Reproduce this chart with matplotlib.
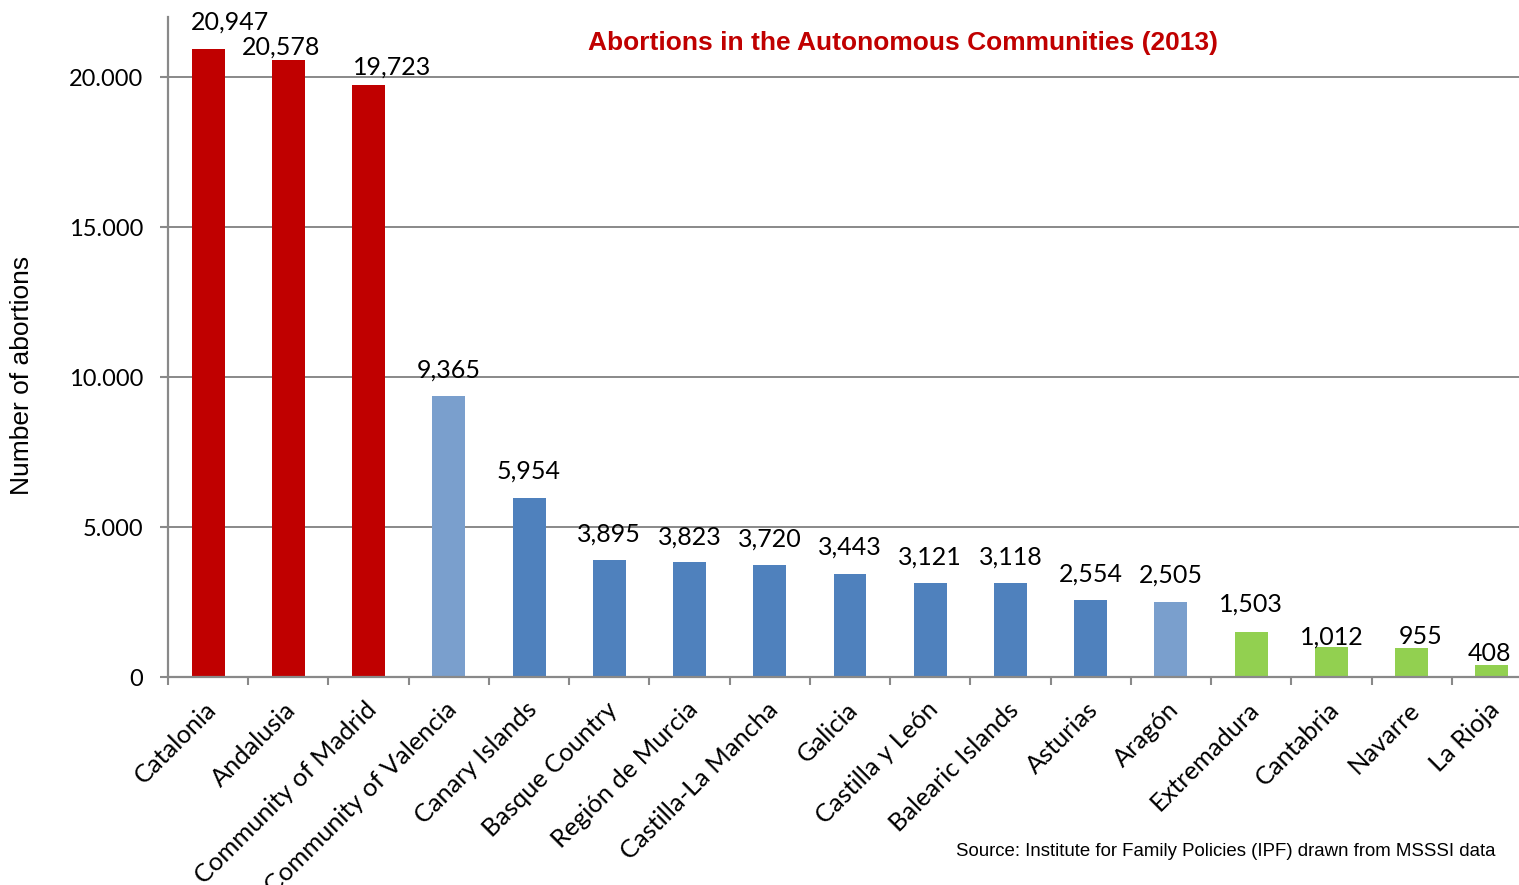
import matplotlib
matplotlib.use("Agg")
import matplotlib.pyplot as plt
from matplotlib.transforms import ScaledTranslation

categories = ["Catalonia", "Andalusia", "Community of Madrid", "Community of Valencia",
              "Canary Islands", "Basque Country", "Región de Murcia", "Castilla-La Mancha",
              "Galicia", "Castilla y León", "Balearic Islands", "Asturias", "Aragón",
              "Extremadura", "Cantabria", "Navarre", "La Rioja"]
values = [20947, 20578, 19723, 9365, 5954, 3895, 3823, 3720, 3443, 3121, 3118,
          2554, 2505, 1503, 1012, 955, 408]
value_labels = ["20,947", "20,578", "19,723", "9,365", "5,954", "3,895", "3,823", "3,720",
                "3,443", "3,121", "3,118", "2,554", "2,505", "1,503", "1,012", "955", "408"]
yticks = [0, 5000, 10000, 15000, 20000]
ytick_labels = ["0", "5.000", "10.000", "15.000", "20.000"]

RED, LBLUE, BLUE, GREEN = "#C00000", "#7A9FCD", "#4F81BD", "#92D050"
colors = [RED, RED, RED, LBLUE, BLUE, BLUE, BLUE, BLUE, BLUE, BLUE, BLUE, BLUE,
          LBLUE, GREEN, GREEN, GREEN, GREEN]
# label offsets in pixels (dx, gap above bar top)
label_dx = [22, -7, 23, 0, 0, 0, 0, 0, 0, 0, 0, 0, 0, 0, 0, 9, -2]
label_gap = [19, 5, 11, 18, 20, 19, 18, 19, 19, 19, 19, 19, 19, 20, 2, 4, 4]

W, H, DPI = 1519, 885, 100
fig = plt.figure(figsize=(W / DPI, H / DPI), dpi=DPI)
fig.patch.set_facecolor("white")
L, R, B, T = 168, 1532, 677, 17
ax = fig.add_axes([L / W, (H - B) / H, (R - L) / W, (B - T) / H])

GRAY = "#898989"
x = list(range(len(categories)))
ax.bar(x, values, width=0.41, color=colors, zorder=3)
ax.set_xlim(-0.5, len(categories) - 0.5)
ax.set_ylim(0, 22000)

for s in ["top", "right"]:
    ax.spines[s].set_visible(False)
for s in ["left", "bottom"]:
    ax.spines[s].set_color(GRAY)
    ax.spines[s].set_linewidth(1.6)
ax.spines["bottom"].set_zorder(4)

ax.set_yticks(yticks)
ax.set_yticklabels(ytick_labels, fontfamily="Lato", fontsize=17)
ax.yaxis.grid(True, color=GRAY, linewidth=1.4, zorder=0)
ax.tick_params(axis="y", direction="out", length=6, width=1.5, color=GRAY, pad=12)

ax.set_xticks([i - 0.5 for i in range(len(categories) + 1)])
ax.set_xticklabels([])
ax.tick_params(axis="x", which="major", direction="out", length=6, width=1.5, color=GRAY)
ax.set_xticks(x, categories, minor=True)
ax.tick_params(axis="x", which="minor", length=0, pad=15)
for lab in ax.get_xticklabels(minor=True):
    lab.set_rotation(45)
    lab.set_ha("right")
    lab.set_va("top")
    lab.set_rotation_mode("anchor")
    lab.set_fontfamily("Lato")
    lab.set_fontsize(18.3)
    lab.set_transform(lab.get_transform() + ScaledTranslation(-4 / DPI, 0, fig.dpi_scale_trans))

for xi, v, lbl, dx, gap in zip(x, values, value_labels, label_dx, label_gap):
    ax.annotate(lbl, (xi, v), xytext=(dx * 72 / DPI, gap * 72 / DPI), textcoords="offset points",
                ha="center", va="baseline", fontfamily="Lato", fontsize=18, color="black", zorder=5)

fig.text(22 / W, 1 - 375 / H, "Number of abortions", rotation=90, ha="center", va="center",
         fontfamily="Liberation Sans", fontsize=19)
fig.text(903 / W, 1 - 43 / H, "Abortions in the Autonomous Communities (2013)", ha="center",
         va="center", fontfamily="Liberation Sans", fontweight="bold", fontsize=19, color=RED)
fig.text(1495 / W, 1 - 852 / H, "Source: Institute for Family Policies (IPF) drawn from MSSSI data",
         ha="right", va="center", fontfamily="Liberation Sans", fontsize=13.4)

fig.savefig("out.png", dpi=DPI)
